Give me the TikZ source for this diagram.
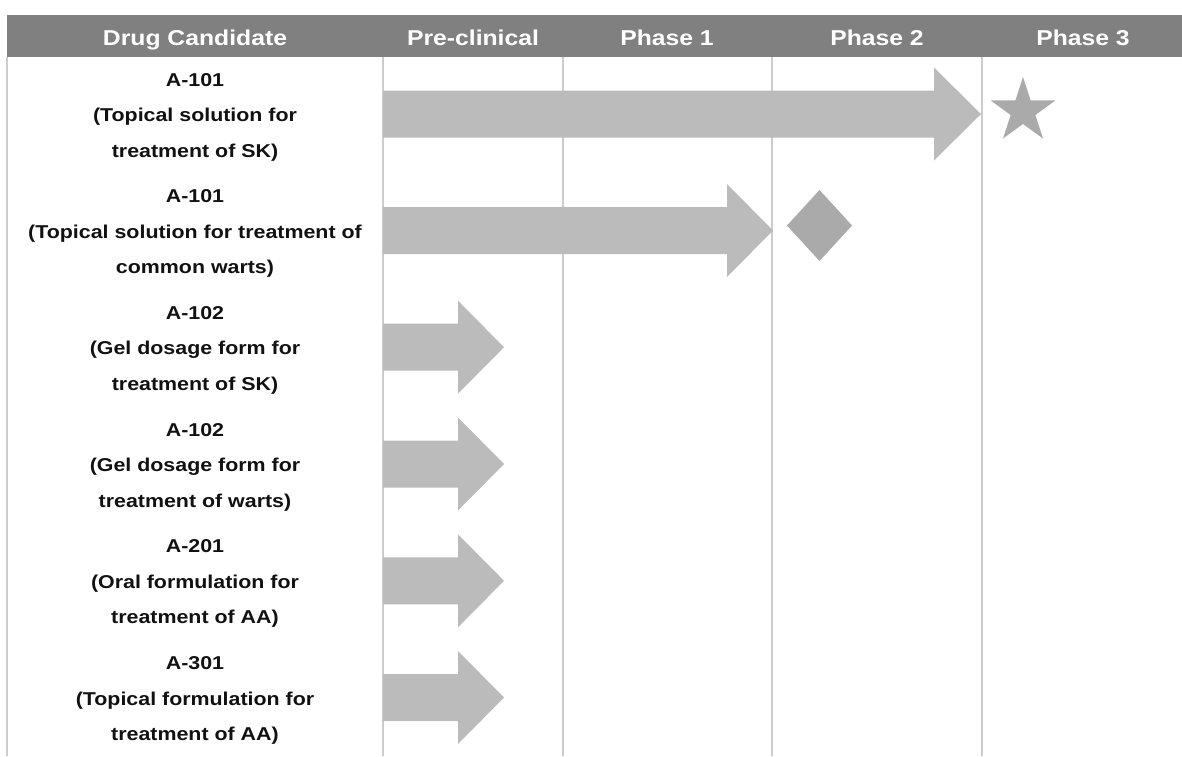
\documentclass[tikz,border=0pt]{standalone}
\usepackage{fontspec}
\setmainfont{Liberation Sans}[FakeStretch=1.15]
\usetikzlibrary{calc}
\definecolor{hdrgray}{HTML}{808080}
\definecolor{arrgray}{HTML}{BBBBBB}
\definecolor{markgray}{HTML}{AAAAAA}
\definecolor{gridgray}{HTML}{CCCCCC}
\definecolor{txt}{HTML}{111111}
\tikzset{
  hdrtext/.style={text=white, font=\fontsize{21.5}{24}\selectfont\bfseries, anchor=base, inner sep=0pt},
  candtext/.style={text=txt, font=\fontsize{18.6}{35.5}\selectfont\bfseries, align=center, inner sep=0pt},
  gridline/.style={draw=gridgray, line width=1.6pt},
  bigarrow/.style={fill=arrgray},
  markshape/.style={fill=markgray}
}
\newcommand{\pipearrow}[3]{% #1 center y, #2 head base x, #3 tip x
  \fill[bigarrow] (383,#1-23.5) -- (#2,#1-23.5) -- (#2,#1-46.5) -- (#3,#1)
    -- (#2,#1+46.5) -- (#2,#1+23.5) -- (383,#1+23.5) -- cycle;}
\begin{document}
\begin{tikzpicture}[x=1pt,y=-1pt]
\useasboundingbox (0,0) rectangle (1182,756);
% header band
\fill[hdrgray] (7,15) rectangle (1182,57);
\node[hdrtext] (hcand) at (195,45) {Drug Candidate};
\node[hdrtext] (hpre) at (473,45) {Pre-clinical};
\node[hdrtext] (hp1) at (667,45) {Phase 1};
\node[hdrtext] (hp2) at (877,45) {Phase 2};
\node[hdrtext] (hp3) at (1083,45) {Phase 3};
% grid lines
\foreach \gx in {7,383,563,772,982} {\draw[gridline] (\gx,57) -- (\gx,756);}
% arrows
\pipearrow{114}{934}{981}
\pipearrow{230.5}{727}{773}
\pipearrow{347.2}{458}{504}
\pipearrow{464}{458}{504}
\pipearrow{580.8}{458}{504}
\pipearrow{697.5}{458}{504}
% star (phase 3 marker); y axis points down, so angle 270 is up
\coordinate (starc) at (1023,111);
\fill[markshape] ($(starc)+(270:34)$) -- ($(starc)+(306:13)$) -- ($(starc)+(342:34)$)
  -- ($(starc)+(18:13)$) -- ($(starc)+(54:34)$) -- ($(starc)+(90:13)$)
  -- ($(starc)+(126:34)$) -- ($(starc)+(162:13)$) -- ($(starc)+(198:34)$)
  -- ($(starc)+(234:13)$) -- cycle;
% diamond (phase 2 marker)
\coordinate (diac) at (819.5,225.5);
\fill[markshape] ($(diac)+(-32.5,0)$) -- ($(diac)+(0,-35.5)$) -- ($(diac)+(32.5,0)$) -- ($(diac)+(0,35.5)$) -- cycle;
% candidate texts
\node[candtext] (r1) at (195,117) {A-101\\(Topical solution for\\treatment of SK)};
\node[candtext] (r2) at (195,233.5) {A-101\\(Topical solution for treatment of\\common warts)};
\node[candtext] (r3) at (195,350.2) {A-102\\(Gel dosage form for\\treatment of SK)};
\node[candtext] (r4) at (195,467) {A-102\\(Gel dosage form for\\treatment of warts)};
\node[candtext] (r5) at (195,583.8) {A-201\\(Oral formulation for\\treatment of AA)};
\node[candtext] (r6) at (195,700.5) {A-301\\(Topical formulation for\\treatment of AA)};
\end{tikzpicture}
\end{document}
